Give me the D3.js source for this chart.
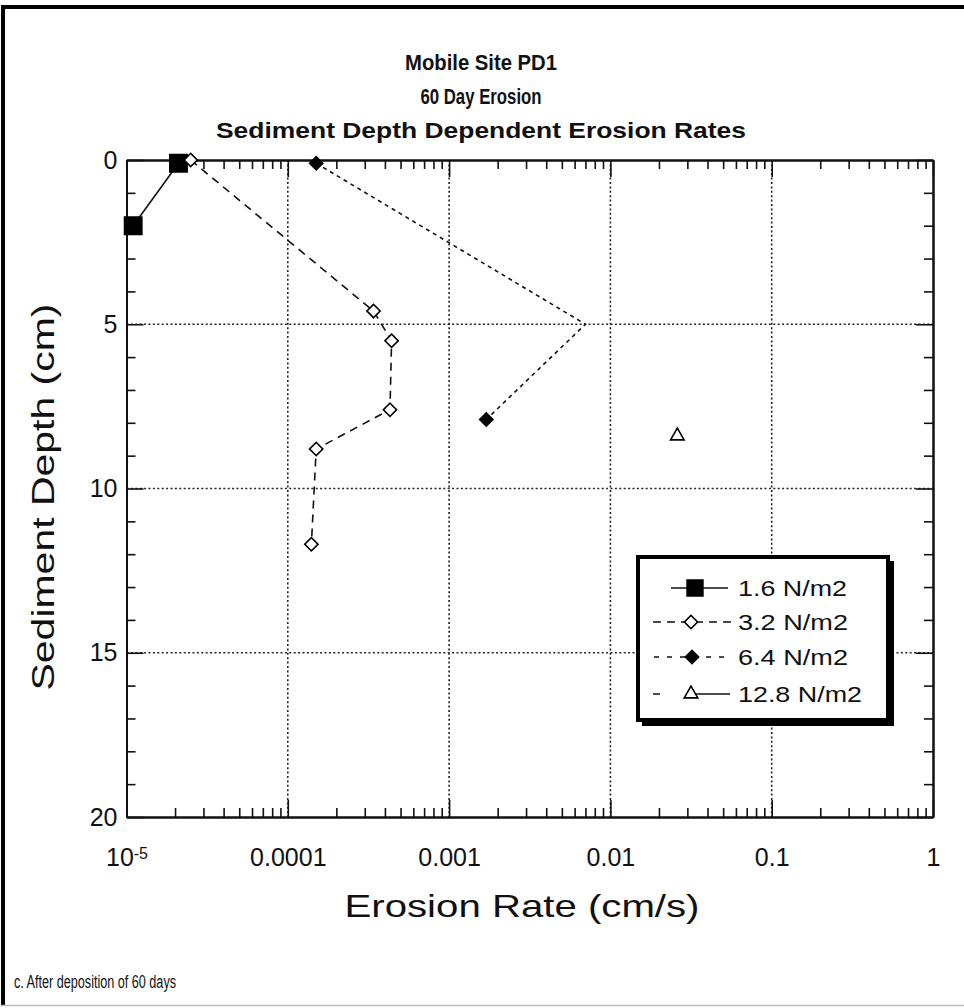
<!DOCTYPE html>
<html>
<head>
<meta charset="utf-8">
<script src="https://cdn.jsdelivr.net/npm/d3@7"></script>
<style>
  body { margin: 0; background: #fff; }
  svg { display: block; font-family: Arial, "Liberation Sans", Helvetica, sans-serif; }
</style>
</head>
<body>
<div id="chart"></div>
<script>
// --- Data ---
const seriesNames = ["1.6 N/m2", "3.2 N/m2", "6.4 N/m2", "12.8 N/m2"];

const rate16 = [1.1e-5, 2.1e-5];
const depth16 = [2.0, 0.1];

const rate32 = [2.5e-5, 3.4e-4, 4.4e-4, 4.3e-4, 1.5e-4, 1.4e-4];
const depth32 = [0.0, 4.6, 5.5, 7.6, 8.8, 11.7];

const rate64 = [1.5e-4, 7.0e-3, 1.7e-3];
const depth64 = [0.1, 5.0, 7.9];
const marker64 = [true, false, true]; // no symbol visible at the 5 cm point

const rate128 = [0.026];
const depth128 = [8.4];

const xTickValues = [1e-5, 1e-4, 1e-3, 1e-2, 1e-1, 1];
const xTickLabels = ["10", "0.0001", "0.001", "0.01", "0.1", "1"];
const yTickValues = [0, 5, 10, 15, 20];
const titleLines = ["Mobile Site PD1", "60 Day Erosion", "Sediment Depth Dependent Erosion Rates"];

// --- Layout ---
const width = 964, height = 1008;
const plot = { left: 126.5, right: 933, top: 160, bottom: 817 };

const svg = d3.create("svg")
    .attr("width", width)
    .attr("height", height);

svg.append("rect").attr("width", width).attr("height", height).attr("fill", "#fff");

// outer frame of the figure
svg.append("rect").attr("x", 1).attr("y", 5).attr("width", width - 1).attr("height", 4).attr("fill", "#000");
svg.append("rect").attr("x", 1).attr("y", 5).attr("width", 4).attr("height", 1001).attr("fill", "#000");
svg.append("line").attr("x1", 1).attr("x2", width).attr("y1", 1005.5).attr("y2", 1005.5)
    .attr("stroke", "#bbb").attr("stroke-width", 1.5);

// Scales
const x = d3.scaleLog().domain([1e-5, 1]).range([plot.left, plot.right]);
const y = d3.scaleLinear().domain([0, 20]).range([plot.top, plot.bottom]);

// Grid (dotted)
const grid = svg.append("g")
    .attr("stroke", "#222")
    .attr("stroke-width", 1.6)
    .attr("stroke-dasharray", "2,2.4");

grid.selectAll("line.gx")
    .data(xTickValues.slice(1, -1))
    .enter().append("line")
    .attr("x1", d => x(d)).attr("x2", d => x(d))
    .attr("y1", plot.top).attr("y2", plot.bottom);

grid.selectAll("line.gy")
    .data(yTickValues.slice(1, -1))
    .enter().append("line")
    .attr("x1", plot.left).attr("x2", plot.right)
    .attr("y1", d => y(d)).attr("y2", d => y(d));

// Axes
const minorX = x.ticks().filter(d => !xTickValues.some(v => Math.abs(v - d) / v < 1e-9));
const minorY = y.ticks(20).filter(d => !yTickValues.includes(d));

function styleAxis(g) {
    g.select(".domain").attr("stroke", "#111").attr("stroke-width", 2);
    g.selectAll(".tick line").attr("stroke", "#111").attr("stroke-width", 1.6);
}

// bottom
svg.append("g")
    .attr("transform", `translate(0,${plot.bottom})`)
    .call(d3.axisBottom(x).tickValues(minorX).tickSize(-9).tickSizeOuter(0).tickFormat(""))
    .call(styleAxis);

const bottomMajor = svg.append("g")
    .attr("transform", `translate(0,${plot.bottom})`)
    .call(d3.axisBottom(x).tickValues(xTickValues).tickSize(-17).tickSizeOuter(0).tickPadding(31)
        .tickFormat((d, i) => xTickLabels[i]))
    .call(styleAxis);

bottomMajor.selectAll(".tick text")
    .attr("font-size", 25)
    .attr("font-family", "Arial, 'Liberation Sans', sans-serif")
    .attr("fill", "#111");

// superscript on the 10^-5 label
bottomMajor.selectAll(".tick text")
    .filter(d => d === 1e-5)
    .append("tspan")
    .attr("dy", "-0.45em")
    .attr("font-size", 16)
    .text("-5");

// top
svg.append("g")
    .attr("transform", `translate(0,${plot.top})`)
    .call(d3.axisTop(x).tickValues(minorX).tickSize(-9).tickSizeOuter(0).tickFormat(""))
    .call(styleAxis);
svg.append("g")
    .attr("transform", `translate(0,${plot.top})`)
    .call(d3.axisTop(x).tickValues(xTickValues).tickSize(-17).tickSizeOuter(0).tickFormat(""))
    .call(styleAxis);

// left
svg.append("g")
    .attr("transform", `translate(${plot.left},0)`)
    .call(d3.axisLeft(y).tickValues(minorY).tickSize(-9).tickSizeOuter(0).tickFormat(""))
    .call(styleAxis);
const leftMajor = svg.append("g")
    .attr("transform", `translate(${plot.left},0)`)
    .call(d3.axisLeft(y).tickValues(yTickValues).tickSize(-17).tickSizeOuter(0).tickPadding(9))
    .call(styleAxis);
leftMajor.selectAll(".tick text")
    .attr("font-size", 25)
    .attr("font-family", "Arial, 'Liberation Sans', sans-serif")
    .attr("fill", "#111");

// right
svg.append("g")
    .attr("transform", `translate(${plot.right},0)`)
    .call(d3.axisRight(y).tickValues(minorY).tickSize(-9).tickSizeOuter(0).tickFormat(""))
    .call(styleAxis);
svg.append("g")
    .attr("transform", `translate(${plot.right},0)`)
    .call(d3.axisRight(y).tickValues(yTickValues).tickSize(-17).tickSizeOuter(0).tickFormat(""))
    .call(styleAxis);

// --- Series ---
const series = [
    { name: seriesNames[0], rate: rate16, depth: depth16, show: rate16.map(() => true),
      symbol: d3.symbolSquare, size: 300, rotate: 0, fill: "#000", dash: null, drawLine: true,
      legendDash: null, legendStart: 671, legendEnd: 728 },
    { name: seriesNames[1], rate: rate32, depth: depth32, show: rate32.map(() => true),
      symbol: d3.symbolSquare, size: 88, rotate: 45, fill: "#fff", dash: "8,6", drawLine: true,
      legendDash: "8,6", legendStart: 653, legendEnd: 733 },
    { name: seriesNames[2], rate: rate64, depth: depth64, show: marker64,
      symbol: d3.symbolSquare, size: 88, rotate: 45, fill: "#000", dash: "4,4", drawLine: true,
      legendDash: "5,8", legendStart: 654, legendEnd: 732 },
    { name: seriesNames[3], rate: rate128, depth: depth128, show: rate128.map(() => true),
      symbol: d3.symbolTriangle, size: 80, rotate: 0, fill: "#fff", dash: null, drawLine: false,
      legendDash: "7,30,44", legendStart: 653, legendEnd: 730 }
];

const line = d3.line().x(d => x(d[0])).y(d => y(d[1]));

series.forEach(s => {
    const pts = s.rate.map((r, i) => [r, s.depth[i], s.show[i]]);
    if (s.drawLine && pts.length > 1) {
        svg.append("path")
            .attr("d", line(pts))
            .attr("fill", "none")
            .attr("stroke", "#111")
            .attr("stroke-width", 1.6)
            .attr("stroke-dasharray", s.dash);
    }
    svg.append("g").selectAll("path")
        .data(pts.filter(p => p[2]))
        .enter().append("path")
        .attr("d", d3.symbol().type(s.symbol).size(s.size))
        .attr("transform", d => `translate(${x(d[0])},${y(d[1])}) rotate(${s.rotate})`)
        .attr("fill", s.fill)
        .attr("stroke", "#000")
        .attr("stroke-width", 1.6);
});

// --- Legend ---
const legend = svg.append("g");
legend.append("rect")
    .attr("x", 642).attr("y", 561).attr("width", 252).attr("height", 165)
    .attr("fill", "#000");
legend.append("rect")
    .attr("x", 638).attr("y", 557).attr("width", 250).attr("height", 163)
    .attr("fill", "#fff").attr("stroke", "#000").attr("stroke-width", 4);

const rowY = [588, 622, 657, 694];
const symbolX = [695, 691, 692, 691];
const textWidths = [109, 110, 110, 124];

series.forEach((s, i) => {
    const row = legend.append("g").attr("transform", `translate(0,${rowY[i]})`);
    row.append("line")
        .attr("x1", s.legendStart).attr("x2", s.legendEnd)
        .attr("stroke", "#111").attr("stroke-width", 1.6)
        .attr("stroke-dasharray", s.legendDash);
    row.append("path")
        .attr("d", d3.symbol().type(s.symbol).size(s === series[0] ? 250 : s.size))
        .attr("transform", `translate(${symbolX[i]},0) rotate(${s.rotate})`)
        .attr("fill", s.fill)
        .attr("stroke", "#000")
        .attr("stroke-width", 1.6);
    row.append("text")
        .attr("x", 738).attr("y", 8)
        .attr("font-size", 22)
        .attr("textLength", textWidths[i])
        .attr("lengthAdjust", "spacingAndGlyphs")
        .attr("fill", "#111")
        .text(s.name);
});

// --- Titles & labels ---
const titleY = [70, 104, 138];
const titleW = [152, 121, 530];
titleLines.forEach((t, i) => {
    svg.append("text")
        .attr("x", 481).attr("y", titleY[i])
        .attr("text-anchor", "middle")
        .attr("font-size", 22)
        .attr("font-weight", "bold")
        .attr("textLength", titleW[i])
        .attr("lengthAdjust", "spacingAndGlyphs")
        .attr("fill", "#111")
        .text(t);
});

svg.append("text")
    .attr("transform", "translate(54,497) rotate(-90)")
    .attr("text-anchor", "middle")
    .attr("font-size", 32)
    .attr("textLength", 387)
    .attr("lengthAdjust", "spacingAndGlyphs")
    .attr("fill", "#111")
    .text("Sediment Depth (cm)");

svg.append("text")
    .attr("x", 522).attr("y", 917)
    .attr("text-anchor", "middle")
    .attr("font-size", 32)
    .attr("textLength", 355)
    .attr("lengthAdjust", "spacingAndGlyphs")
    .attr("fill", "#111")
    .text("Erosion Rate (cm/s)");

svg.append("text")
    .attr("x", 14).attr("y", 988)
    .attr("font-size", 18)
    .attr("textLength", 162)
    .attr("lengthAdjust", "spacingAndGlyphs")
    .attr("fill", "#111")
    .text("c.  After deposition of 60 days");

d3.select("#chart").node().appendChild(svg.node());
</script>
</body>
</html>
